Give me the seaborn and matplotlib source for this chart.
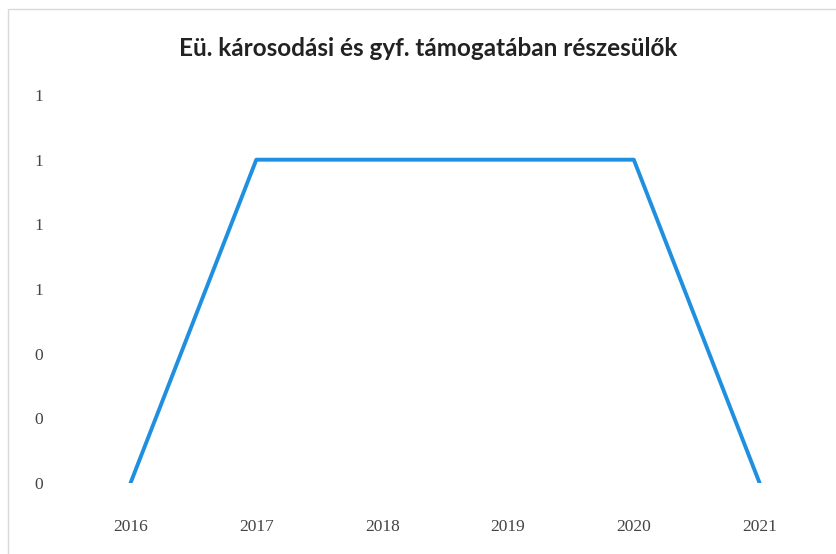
import matplotlib
matplotlib.use("Agg")
import matplotlib.pyplot as plt
import seaborn as sns
import pandas as pd
from matplotlib.patches import Rectangle
from matplotlib.ticker import FuncFormatter

# Adatok
evek = [2016, 2017, 2018, 2019, 2020, 2021]
ertekek = [0, 1, 1, 1, 1, 0]
y_tickek = [0, 0.2, 0.4, 0.6, 0.8, 1.0, 1.2]

df = pd.DataFrame({"Ev": evek, "Ertek": ertekek})

sns.set_style("white")
plt.rcParams['font.family'] = ['Liberation Serif', 'DejaVu Serif']

fig = plt.figure(figsize=(8.36, 5.54), dpi=100)
ax = fig.add_axes([0.0718, 0.128, 0.885, 0.7005])

sns.lineplot(data=df, x="Ev", y="Ertek", color="#1f8fe0", linewidth=2.8, ax=ax)

ax.set_xlim(2015.44, 2021.32)
ax.set_ylim(0, 1.2)
ax.set_xticks(evek)
ax.set_yticks(y_tickek)
ax.yaxis.set_major_formatter(FuncFormatter(lambda v, p: f"{v:.0f}"))
ax.tick_params(axis="both", length=0, labelsize=12.5, colors="#444444")
ax.tick_params(axis="x", pad=26)
ax.tick_params(axis="y", pad=12)
ax.set_xlabel("")
ax.set_ylabel("")
for s in ax.spines.values():
    s.set_visible(False)

fig.text(0.512, 0.913, "Eü. károsodási és gyf. támogatában részesülők",
         ha="center", va="center", fontsize=17.5, fontweight="bold",
         family=["Lato", "DejaVu Sans"], color="#222222")

# keret
fig.patches.append(Rectangle((0.009, -0.01), 1.0, 0.993, transform=fig.transFigure,
                             fill=False, edgecolor="#d9d9d9", linewidth=1))

plt.savefig("out.png", dpi=100)
